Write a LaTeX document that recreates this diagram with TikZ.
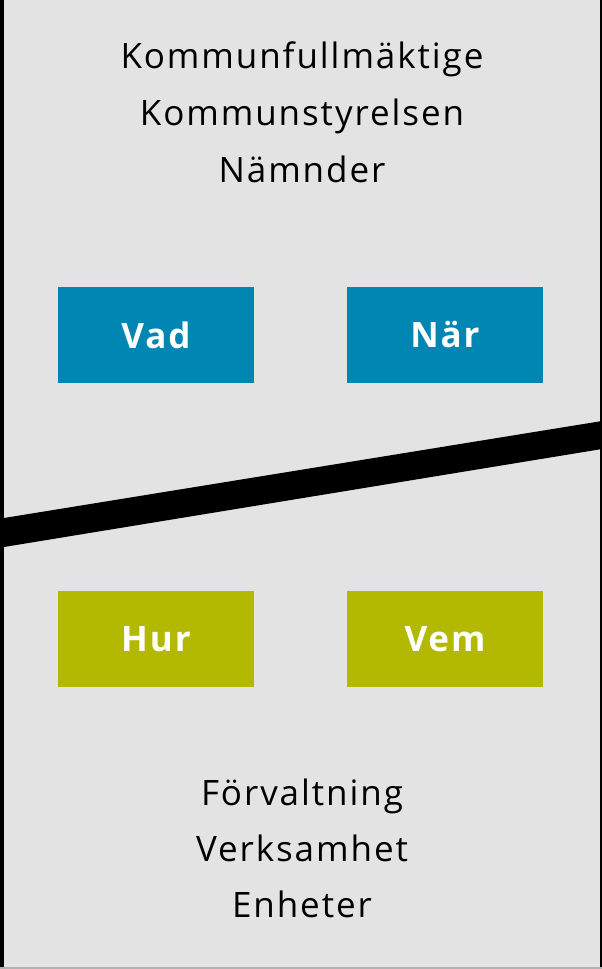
\documentclass[tikz,border=0pt]{standalone}
\usepackage{fontspec}
\setmainfont{Open Sans}[LetterSpace=5.5]
\usepackage{xcolor}
\usepackage{tikz}

\definecolor{bggray}{HTML}{E3E3E3}
\definecolor{boxblue}{HTML}{0086B3}
\definecolor{boxgreen}{HTML}{B3B900}

\tikzset{
    label/.style={anchor=base, font=\fontsize{35}{40}\selectfont},
    qbox/.style={minimum width=196pt, minimum height=96pt, inner sep=0pt,
        text=white, font=\fontsize{35}{40}\selectfont\bfseries}
}

\begin{document}
\begin{tikzpicture}[x=1pt,y=-1pt]
    % Background and edges
    \fill[bggray] (0,0) rectangle (602,969);
    \fill[black] (0,0) rectangle (4,969);
    \fill[black] (600,0) rectangle (602,969);
    \fill[gray!60] (0,967) rectangle (602,969);
    % Dividing band
    \fill[black] (4,518) -- (602,421) -- (602,449) -- (4,547) -- cycle;
    % Upper labels
    \foreach \y/\name/\txt in {68/kf/Kommunfullmäktige, 125/ks/Kommunstyrelsen, 182/nd/Nämnder} {
        \node[label] (\name) at (302,\y) {\txt};
    }
    % Question boxes
    \node[qbox, fill=boxblue] (vad) at (156,335) {Vad};
    \node[qbox, fill=boxblue] (nar) at (445,335) {När};
    \node[qbox, fill=boxgreen] (hur) at (156,639) {Hur};
    \node[qbox, fill=boxgreen] (vem) at (445,639) {Vem};
    % Lower labels
    \foreach \y/\name/\txt in {805/fv/Förvaltning, 861/vs/Verksamhet, 917/eh/Enheter} {
        \node[label] (\name) at (302,\y) {\txt};
    }
\end{tikzpicture}
\end{document}
